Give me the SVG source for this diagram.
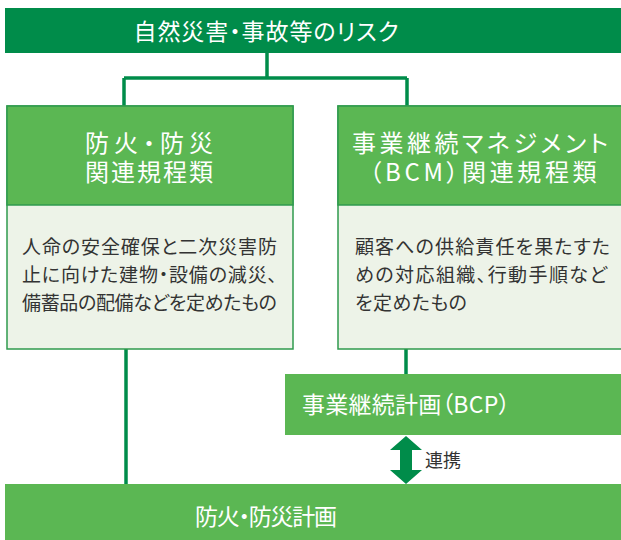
<svg xmlns="http://www.w3.org/2000/svg" width="621" height="540" viewBox="0 0 621 540">
<style>
.dark{fill:#008C4A}
.head{fill:#5BB753}
.body{fill:#EDF3E8;stroke:#2F9A4E;stroke-width:1.5}
.hdr{fill:#5BB753;stroke:#2F9A4E;stroke-width:1.5}
.conn{stroke:#008C4A;stroke-width:3.5;fill:none}
text{font-feature-settings:"palt" 1}
.wt{fill:#ffffff;font-family:"Noto Sans CJK JP","Noto Sans",sans-serif;text-anchor:middle}
.bt{fill:#333333;font-family:"Noto Sans CJK JP","Noto Sans",sans-serif;font-size:19px}
</style>
<g id="connectors">
<path class="conn" d="M267,53 V78 M124,78 H407 M124,78 V106 M407,78 V106"/>
<path class="conn" d="M126,349 V484"/>
<path class="conn" d="M406,349 V374"/>
<polygon class="dark" points="406,436 422,450 412,450 412,470 422,470 406,484 390,470 400,470 400,450 390,450"/>
<text x="425" y="467" style="fill:#333;font-family:'Noto Sans CJK JP',sans-serif;font-size:18px">連携</text>
</g>
<g id="risk">
<rect class="dark" x="5" y="8" width="616" height="45"/>
<text class="wt" x="266" y="40" font-size="23" textLength="265" lengthAdjust="spacing">自然災害・事故等のリスク</text>
</g>
<g id="fire-rules">
<rect class="body" x="7" y="106" width="286" height="243"/>
<rect class="hdr" x="7" y="106" width="286" height="99"/>
<text class="wt" x="149" y="152" font-size="24" textLength="128" lengthAdjust="spacing">防火・防災</text>
<text class="wt" x="149" y="181" font-size="24" textLength="128" lengthAdjust="spacing">関連規程類</text>
<text class="bt" x="22" y="254" textLength="255" lengthAdjust="spacing">人命の安全確保と二次災害防</text>
<text class="bt" x="22" y="282" textLength="255" lengthAdjust="spacing">止に向けた建物・設備の減災、</text>
<text class="bt" x="22" y="310" textLength="255" lengthAdjust="spacing">備蓄品の配備などを定めたもの</text>
</g>
<g id="bcm-rules">
<rect class="body" x="338" y="106" width="290" height="243"/>
<rect class="hdr" x="338" y="106" width="290" height="99"/>
<text class="wt" x="480" y="152" font-size="24" textLength="256" lengthAdjust="spacing">事業継続マネジメント</text>
<text class="wt" x="483" y="181" font-size="24" textLength="227" lengthAdjust="spacing">（BCM）関連規程類</text>
<text class="bt" x="355" y="254" textLength="255" lengthAdjust="spacing">顧客への供給責任を果たすた</text>
<text class="bt" x="355" y="282" textLength="252" lengthAdjust="spacing">めの対応組織、行動手順など</text>
<text class="bt" x="355" y="310" textLength="112" lengthAdjust="spacing">を定めたもの</text>
</g>
<g id="bcp">
<rect class="head" x="285" y="374" width="336" height="61"/>
<text class="wt" x="406" y="413" font-size="23" textLength="208" lengthAdjust="spacing">事業継続計画（BCP）</text>
</g>
<g id="fire-plan">
<rect class="head" x="5" y="484" width="616" height="56"/>
<text class="wt" x="266" y="525" font-size="23" textLength="142" lengthAdjust="spacing">防火・防災計画</text>
</g>
</svg>
